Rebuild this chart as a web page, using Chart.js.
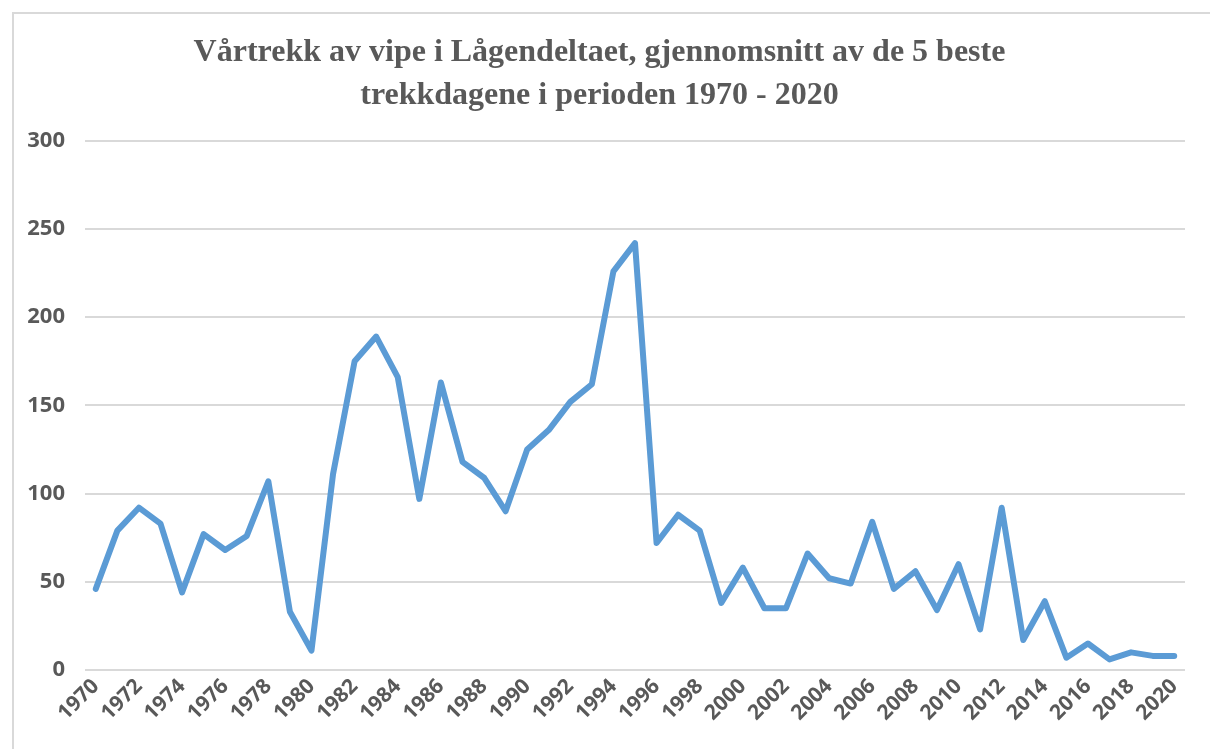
<!DOCTYPE html>
<html>
<head>
<meta charset="utf-8">
<script src="https://cdn.jsdelivr.net/npm/chart.js@4.4.1/dist/chart.umd.min.js"></script>
<style>
  html, body { margin: 0; padding: 0; background: #fff; overflow: hidden; }
  #frame {
    position: absolute; left: 12px; top: 12px; width: 1210px; height: 760px;
    border-left: 2px solid #d9d9d9; border-top: 2px solid #d9d9d9;
  }
  #wrap { position: absolute; left: 0; top: 0; width: 1204px; height: 735px; }
</style>
</head>
<body>
<div id="frame"><div id="wrap"><canvas id="chart"></canvas></div></div>
<script>
const years = [];
for (var y = 1970; y <= 2020; y++) years.push(String(y));

// gjennomsnitt av de 5 beste trekkdagene
const vipe = [
  46, 79, 92, 83, 44, 77, 68, 76, 107, 33,
  11, 111, 175, 189, 166, 97, 163, 118, 109, 90,
  125, 136, 152, 162, 226, 242, 72, 88, 79, 38,
  58, 35, 35, 66, 52, 49, 84, 46, 56, 34,
  60, 23, 92, 17, 39, 7, 15, 6, 10, 8, 8
];

const yTicks = [0, 50, 100, 150, 200, 250, 300];

const grey = "#595959";

var ctx = document.getElementById("chart").getContext("2d");
var myChart = new Chart(ctx, {
  type: "line",
  data: {
    labels: years,
    datasets: [
      {
        label: "Vipe",
        data: vipe,
        borderColor: "#5b9bd5",
        backgroundColor: "#5b9bd5",
        borderWidth: 6,
        pointRadius: 0,
        tension: 0,
        borderJoinStyle: "round",
        borderCapStyle: "round",
      },
    ],
  },
  options: {
    responsive: true,
    maintainAspectRatio: false,
    animation: false,
    layout: { padding: { left: 0, right: 33, top: 0, bottom: 0 } },
    plugins: {
      legend: { display: false },
      tooltip: { enabled: false },
      title: {
        display: true,
        text: ["Vårtrekk av vipe i Lågendeltaet, gjennomsnitt av de 5 beste", "trekkdagene i perioden 1970 - 2020"],
        color: grey,
        font: { family: "'Liberation Serif', serif", size: 32, weight: "bold", lineHeight: 1.34 },
        padding: { top: 17, bottom: 24 },
      },
    },
    scales: {
      x: {
        offset: true,
        grid: { display: false, drawTicks: false },
        border: { display: false },
        ticks: {
          autoSkip: false,
          maxRotation: 45,
          minRotation: 45,
          padding: 4,
          color: grey,
          font: { family: "'Open Sans', sans-serif", size: 21, weight: "bold" },
          callback: function (val, i) {
            return i % 2 === 0 ? years[i] : "";
          },
        },
        afterFit: function (scale) { scale.height = 79; },
      },
      y: {
        min: 0,
        max: 300,
        afterBuildTicks: function (scale) {
          scale.ticks = yTicks.map(function (v) { return { value: v }; });
        },
        grid: { color: "#d9d9d9", lineWidth: 2, drawTicks: false },
        border: { display: false },
        ticks: { color: grey, font: { family: "'Open Sans', sans-serif", size: 22, weight: "bold" }, padding: 20 },
        afterFit: function (scale) { scale.width = 71; },
      },
    },
  },
});
</script>
</body>
</html>
